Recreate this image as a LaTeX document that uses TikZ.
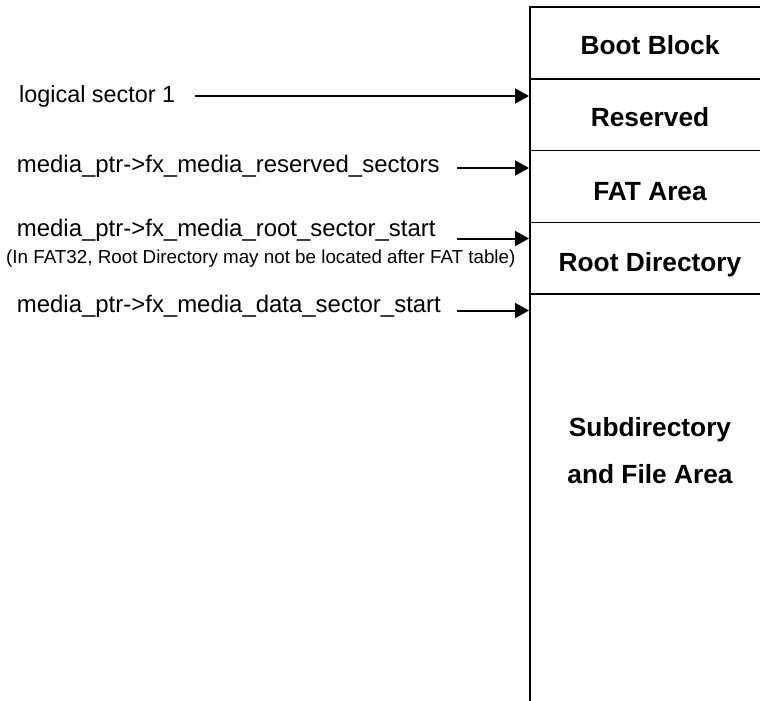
\documentclass[tikz,border=0pt]{standalone}
\usepackage{fontspec}
\setmainfont{Liberation Sans}
\usetikzlibrary{arrows.meta}
\tikzset{
  ptrlabel/.style={anchor=base west, inner sep=0pt, font=\fontsize{23.95}{28}\selectfont},
  notelabel/.style={anchor=base west, inner sep=0pt, font=\fontsize{18.8}{22}\selectfont},
  arealabel/.style={anchor=base, inner sep=0pt, font=\bfseries\fontsize{26.3}{46.6}\selectfont, align=center},
  boxline/.style={line width=2pt},
  divline/.style={line width=1.5pt},
  ptrarrow/.style={line width=2pt, -{Triangle[length=14pt,width=15pt]}}
}
\begin{document}
\begin{tikzpicture}[x=1pt,y=-1pt]
\useasboundingbox (0,0) rectangle (760,701);
% memory map box
\draw[boxline] (530,702) -- (530,7) -- (761,7);
\draw[divline] (530,79) -- (761,79);
\draw[divline] (530,150.7) -- (761,150.7);
\draw[divline] (530,222.3) -- (761,222.3);
\draw[divline] (530,294) -- (761,294);
% area labels
\node[arealabel] (boot) at (650,55) {Boot Block};
\node[arealabel] (res) at (650,126.7) {Reserved};
\node[arealabel] (fat) at (650,200) {FAT Area};
\node[arealabel] (root) at (650,271.7) {Root Directory};
\node[arealabel] (data) at (650,483.3) {Subdirectory\\and File Area};
% pointer labels
\node[ptrlabel, font=\fontsize{23.4}{28}\selectfont] (l1) at (19,102.7) {logical sector 1};
\node[ptrlabel] (l2) at (16.7,172.7) {media\_ptr->fx\_media\_reserved\_sectors};
\node[ptrlabel] (l3) at (16.7,236) {media\_ptr->fx\_media\_root\_sector\_start};
\node[notelabel] (note) at (6,263) {(In FAT32, Root Directory may not be located after FAT table)};
\node[ptrlabel] (l4) at (16.7,312.7) {media\_ptr->fx\_media\_data\_sector\_start};
% arrow end points
\coordinate (s1) at (195,96);
\coordinate (t1) at (529,96);
\coordinate (s2) at (457,168);
\coordinate (t2) at (529,168);
\coordinate (s3) at (457,238.5);
\coordinate (t3) at (529,238.5);
\coordinate (s4) at (457,310.5);
\coordinate (t4) at (529,310.5);
\draw[ptrarrow] (s1) -- (t1);
\draw[ptrarrow] (s2) -- (t2);
\draw[ptrarrow] (s3) -- (t3);
\draw[ptrarrow] (s4) -- (t4);
\end{tikzpicture}
\end{document}
